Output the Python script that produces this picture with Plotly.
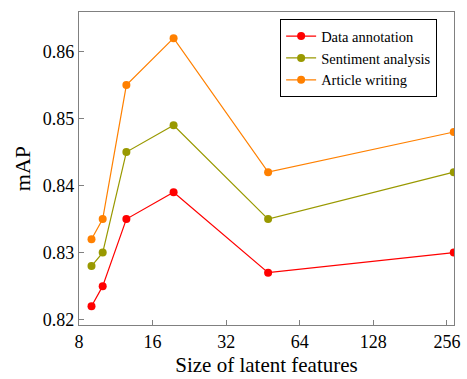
import plotly.graph_objects as go
import math

x_sizes = [9, 10, 12.5, 19.5, 47.5, 273]
data_annotation = [0.822, 0.825, 0.835, 0.839, 0.827, 0.830]
sentiment_analysis = [0.828, 0.830, 0.845, 0.849, 0.835, 0.842]
article_writing = [0.832, 0.835, 0.855, 0.862, 0.842, 0.848]
series_names = ["Data annotation", "Sentiment analysis", "Article writing"]
colors = ["#ff0000", "#999900", "#ff8000"]
x_ticks = [8, 16, 32, 64, 128, 256]
y_ticks = [0.82, 0.83, 0.84, 0.85, 0.86]

fig = go.Figure()
for name, vals, c in zip(series_names, [data_annotation, sentiment_analysis, article_writing], colors):
    fig.add_trace(go.Scatter(x=x_sizes, y=vals, name=name, mode="lines+markers",
                             line=dict(color=c, width=1.2),
                             marker=dict(color=c, size=8)))

font = "Liberation Serif"
fig.update_layout(
    width=467, height=379,
    margin=dict(l=79, r=7, t=12, b=47),
    plot_bgcolor="white", paper_bgcolor="white",
    font=dict(family=font, size=16, color="black"),
    showlegend=True,
    legend=dict(x=0.955, y=0.977, xanchor="right", yanchor="top",
                bordercolor="black", borderwidth=1, bgcolor="white",
                font=dict(family=font, size=14.5),
                tracegroupgap=0, itemwidth=30),
)
fig.update_xaxes(type="log", range=[math.log10(8), math.log10(273.6)],
                 tickvals=x_ticks, ticktext=[str(v) for v in x_ticks],
                 ticks="inside", ticklen=5, tickcolor="#808080",
                 showline=True, linecolor="#808080", linewidth=1.3, mirror=True,
                 showgrid=False, zeroline=False,
                 title=dict(text="Size of latent features", font=dict(family=font, size=21), standoff=6),
                 tickfont=dict(family=font, size=18))
fig.update_yaxes(range=[0.8192, 0.8659],
                 tickvals=y_ticks, ticktext=["0.82", "0.83", "0.84", "0.85", "0.86"],
                 ticks="inside", ticklen=5, tickcolor="#808080",
                 showline=True, linecolor="#808080", linewidth=1.3, mirror=True,
                 showgrid=False, zeroline=False,
                 title=dict(text="mAP", font=dict(family=font, size=22), standoff=6),
                 tickfont=dict(family=font, size=18))
fig.write_html("out.html")
